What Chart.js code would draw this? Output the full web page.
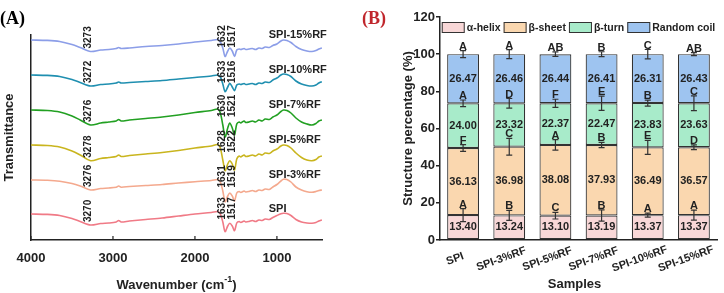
<!DOCTYPE html>
<html>
<head>
<meta charset="utf-8">
<script src="https://cdn.jsdelivr.net/npm/chart.js@4/dist/chart.umd.min.js"></script>
<style>
  html, body { margin: 0; padding: 0; background: #fff; }
  #wrap { position: relative; width: 724px; height: 293px; }
  canvas { position: absolute; top: 0; }
  #ftir { left: 0; }
  #bars { left: 362px; }
</style>
</head>
<body>
<div id="wrap">
  <canvas id="ftir" width="362" height="293"></canvas>
  <canvas id="bars" width="362" height="293"></canvas>
</div>
<script>
// ---- panel A: FTIR spectra (stacked offsets included) ----
const wavenumbers = [4000, 3800, 3650, 3500, 3400, 3273, 3150, 3050, 2960, 2930, 2900, 2800, 2600, 2400, 2200, 2000, 1800, 1720, 1690, 1660, 1632, 1600, 1575, 1545, 1517,
  1490, 1460, 1440, 1400, 1380, 1340, 1300, 1260, 1220, 1180, 1143, 1093, 1049, 1000, 951, 920, 878, 829, 768, 700, 634, 573, 524, 488, 451];

const spiT = [26, 25.6, 24.5, 21.5, 18.5, 15, 16.5, 17, 18, 19.5, 18, 19, 20.5, 22, 24, 26, 27.5, 28.5, 26, 18, 8.3, 14, 16.7, 14, 9.3,
  17, 18.5, 17.5, 19, 18, 18.5, 19.5, 18.5, 20, 19.5, 21, 20.5, 22.5, 24.5, 26.3, 26.7, 26.5, 24.5, 20.5, 18, 17, 16.7, 17.5, 19, 20];
const rf3T = [60, 59.7, 58.8, 56.5, 54, 50, 51.5, 52, 52.8, 54, 52.8, 53.5, 54.5, 55.5, 57, 58.3, 59.5, 60.5, 58, 49, 38.3, 44, 47, 44, 39,
  47, 48.5, 47.5, 49, 48, 48.5, 49.5, 48.5, 50, 49.5, 51, 50.5, 53, 55.5, 59, 60.7, 60.5, 58, 53, 50, 48.3, 47.7, 48.5, 49.5, 50];
const rf5T = [95, 94.5, 93, 89, 85, 79.3, 81.5, 82.5, 83.5, 85, 83.5, 84.5, 86, 87.5, 89.5, 92, 94, 95.5, 92, 80, 69.3, 76, 79.3, 76, 70,
  81, 84, 83, 85, 83.5, 84, 85, 84, 86, 85, 87, 86.5, 89, 91, 94, 95, 94.5, 92, 87, 82.5, 80, 79.3, 80.5, 83, 84];
const rf7T = [130, 129.5, 128, 124, 120, 115, 117, 118, 119, 120.5, 119, 120, 121.5, 123, 125, 127.5, 129.5, 131, 127, 115, 103, 112, 117, 112, 105,
  116, 118, 117, 119, 117.5, 118, 119, 118, 120, 119, 121, 120.5, 123, 125, 128.5, 130, 129.5, 127, 122, 118, 116, 115, 116.5, 119, 120];
const rf10T = [165, 164.6, 163.5, 160.5, 157.5, 154, 155.5, 156, 157, 158, 157, 157.5, 158.5, 159.5, 161, 162.5, 164, 165, 163, 156, 148.3, 153, 156.7, 153, 149.3,
  155, 156, 155.5, 156.5, 155.5, 156, 156.5, 155.5, 157, 156.5, 158, 157.5, 160, 162, 165, 166, 165.5, 163.5, 159, 156, 154.5, 154, 155, 157, 158.3];
const rf15T = [200, 199.6, 198.5, 195.5, 192.5, 188.5, 190, 190.5, 191.5, 192.5, 191.5, 192, 193.5, 194.5, 196, 198, 199.5, 200.5, 198, 192, 183.5, 189, 192, 189, 183.5,
  190, 191, 190.5, 191.5, 190.5, 191, 191.5, 190.5, 192, 191.5, 193, 192.5, 194.5, 196, 199, 200, 199.5, 197.5, 193.5, 190.5, 189, 188.5, 189.5, 191, 192];

const spectraNames = ['SPI', 'SPI-3%RF', 'SPI-5%RF', 'SPI-7%RF', 'SPI-10%RF', 'SPI-15%RF'];
const ohPeaks = ['3270', '3276', '3278', '3276', '3272', '3273'];
const amideIPeaks = ['1633', '1631', '1628', '1630', '1633', '1632'];
const amideIIPeaks = ['1517', '1519', '1522', '1521', '1516', '1517'];
const wnTicks = [4000, 3000, 2000, 1000];

// ---- panel B: secondary structure ----
const samples = ['SPI', 'SPI-3%RF', 'SPI-5%RF', 'SPI-7%RF', 'SPI-10%RF', 'SPI-15%RF'];
const alphaHelix = [13.40, 13.24, 13.10, 13.19, 13.37, 13.37];
const betaSheet = [36.13, 36.98, 38.08, 37.93, 36.49, 36.57];
const betaTurn = [24.00, 23.32, 22.37, 22.47, 23.83, 23.63];
const randomCoil = [26.47, 26.46, 26.44, 26.41, 26.31, 26.43];
const alphaErr = [3.5, 2.7, 1.8, 3.0, 1.1, 2.7];
const sheetErr = [1.8, 4.5, 2.8, 1.4, 3.8, 1.3];
const turnErr = [1.8, 2.6, 2.2, 3.8, 1.6, 4.0];
const coilErr = [1.9, 2.4, 1.2, 1.3, 2.5, 0.8];
const alphaSig = ['A', 'B', 'C', 'B', 'A', 'A'];
const sheetSig = ['F', 'C', 'A', 'B', 'E', 'D'];
const turnSig = ['A', 'D', 'F', 'E', 'B', 'C'];
const coilSig = ['A', 'A', 'AB', 'B', 'C', 'AB'];

const SANS = '"Liberation Sans", Arial, sans-serif';
const SERIF = '"Liberation Serif", "Times New Roman", serif';
const INK = '#222';

Chart.defaults.font.family = SANS;
Chart.defaults.font.weight = 'bold';
Chart.defaults.color = INK;

function vText(ctx, text, x, y, align) {
  ctx.save();
  ctx.translate(x, y);
  ctx.rotate(-Math.PI / 2);
  ctx.textAlign = align;
  ctx.textBaseline = 'middle';
  ctx.fillText(text, 0, 0);
  ctx.restore();
}

// ---------------- panel A ----------------
const spectra = [spiT, rf3T, rf5T, rf7T, rf10T, rf15T];
const spectraColors = ['#f07a86', '#f4a98e', '#c9b51e', '#22a022', '#1f8fb0', '#8c9ee8'];

const ftirDecor = {
  id: 'ftirDecor',
  afterDraw(chart) {
    const ctx = chart.ctx;
    const xs = chart.scales.x, ys = chart.scales.y;
    const area = chart.chartArea;
    ctx.save();
    // inward ticks
    ctx.strokeStyle = INK;
    ctx.lineWidth = 1.2;
    wnTicks.forEach(v => {
      const x = xs.getPixelForValue(v);
      ctx.beginPath();
      ctx.moveTo(x, area.bottom);
      ctx.lineTo(x, area.bottom - 4);
      ctx.stroke();
    });
    ctx.fillStyle = INK;
    // peak labels and names
    chart.data.datasets.forEach((ds, i) => {
      const pts = ds.data;
      const first = pts[0].y;
      const ohDip = Math.min(...pts.filter(p => p.x > 3000).map(p => p.y));
      const pre = pts.find(p => p.x === 1720).y;
      ctx.font = 'bold 10px ' + SANS;
      vText(ctx, ohPeaks[i], xs.getPixelForValue(3273) - 2.5, ys.getPixelForValue(ohDip) - 3, 'left');
      const ampY = ys.getPixelForValue(pre) + 8;
      vText(ctx, amideIPeaks[i], xs.getPixelForValue(1632) - 3, ampY, 'left');
      vText(ctx, amideIIPeaks[i], xs.getPixelForValue(1517) - 2.5, ampY, 'left');
      ctx.font = 'bold 11px ' + SANS;
      ctx.textAlign = 'left';
      ctx.textBaseline = 'middle';
      ctx.fillText(spectraNames[i], xs.getPixelForValue(1100), ys.getPixelForValue(first) - 5);
    });
    // axis titles
    ctx.font = 'bold 13px ' + SANS;
    vText(ctx, 'Transmittance', 9, (area.top + area.bottom) / 2, 'center');
    const a = 'Wavenumber (cm', b = '-1', c = ')';
    const wa = ctx.measureText(a).width, wc = ctx.measureText(c).width;
    ctx.font = 'bold 9px ' + SANS;
    const wb = ctx.measureText(b).width;
    let x0 = (area.left + area.right) / 2 - (wa + wb + wc) / 2;
    ctx.textAlign = 'left';
    ctx.textBaseline = 'middle';
    ctx.font = 'bold 13px ' + SANS;
    ctx.fillText(a, x0, 285);
    ctx.font = 'bold 9px ' + SANS;
    ctx.fillText(b, x0 + wa, 280);
    ctx.font = 'bold 13px ' + SANS;
    ctx.fillText(c, x0 + wa + wb, 285);
    // panel tag
    ctx.font = 'bold 18px ' + SERIF;
    ctx.fillStyle = '#000';
    ctx.fillText('(A)', 0, 19);
    ctx.restore();
  }
};

new Chart(document.getElementById('ftir'), {
  type: 'line',
  data: {
    datasets: spectra.map((vals, i) => ({
      label: spectraNames[i],
      data: vals.map((v, k) => ({ x: wavenumbers[k], y: v })),
      borderColor: spectraColors[i],
      borderWidth: 1.6,
      pointRadius: 0,
      tension: 0.3,
      fill: false
    }))
  },
  options: {
    responsive: false,
    animation: false,
    layout: { padding: { top: 35, right: 40, left: 0, bottom: 0 } },
    plugins: { legend: { display: false }, tooltip: { enabled: false } },
    scales: {
      x: {
        type: 'linear', reverse: true, min: 450, max: 4000,
        afterBuildTicks: s => { s.ticks = wnTicks.map(v => ({ value: v })); },
        afterFit: s => { s.height = 53; },
        grid: { display: false, drawTicks: false },
        border: { display: true, color: INK, width: 1.5 },
        ticks: { padding: 11, autoSkip: false, maxRotation: 0, font: { size: 13, weight: 'bold' }, color: INK, callback: v => String(v) }
      },
      y: {
        min: 0, max: 205,
        afterFit: s => { s.width = 31; },
        grid: { display: false, drawTicks: false },
        border: { display: true, color: INK, width: 1.5 },
        ticks: { display: false }
      }
    }
  },
  plugins: [ftirDecor]
});

// ---------------- panel B ----------------
const parts = [alphaHelix, betaSheet, betaTurn, randomCoil];
const partNames = ['α-helix', 'β-sheet', 'β-turn', 'Random coil'];
const partColors = ['#f8d7d7', '#fad7af', '#a8ebca', '#9ec4f0'];
const partErr = [alphaErr, sheetErr, turnErr, coilErr];
const partSig = [alphaSig, sheetSig, turnSig, coilSig];

const barDecor = {
  id: 'barDecor',
  afterDatasetsDraw(chart) {
    const ctx = chart.ctx;
    const ys = chart.scales.y;
    ctx.save();
    chart.data.datasets.forEach((ds, i) => {
      const meta = chart.getDatasetMeta(i);
      meta.data.forEach((bar, j) => {
        let cum = 0;
        for (let k = 0; k <= i; k++) cum += parts[k][j];
        const err = partErr[i][j];
        const yHi = ys.getPixelForValue(cum + err), yLo = ys.getPixelForValue(cum - err);
        ctx.strokeStyle = '#333';
        ctx.lineWidth = 1.2;
        ctx.beginPath();
        ctx.moveTo(bar.x, yLo); ctx.lineTo(bar.x, yHi);
        ctx.moveTo(bar.x - 3, yLo); ctx.lineTo(bar.x + 3, yLo);
        ctx.moveTo(bar.x - 3, yHi); ctx.lineTo(bar.x + 3, yHi);
        ctx.stroke();
        ctx.fillStyle = INK;
        ctx.font = 'bold 11px ' + SANS;
        ctx.textAlign = 'center';
        ctx.textBaseline = 'alphabetic';
        ctx.fillText(partSig[i][j], bar.x, yHi - 1);
        ctx.textBaseline = 'middle';
        ctx.fillText(ds.data[j].toFixed(2), bar.x, (bar.y + bar.base) / 2);
      });
    });
    ctx.restore();
  },
  afterDraw(chart) {
    const ctx = chart.ctx;
    const area = chart.chartArea;
    const xs = chart.scales.x;
    ctx.save();
    // category labels, tilted and centred a little left of each bar
    ctx.fillStyle = INK;
    ctx.font = 'bold 11px ' + SANS;
    chart.data.labels.forEach((lab, j) => {
      ctx.save();
      ctx.translate(xs.getPixelForValue(j) - 8, 259);
      ctx.rotate(-20 * Math.PI / 180);
      ctx.textAlign = 'center';
      ctx.textBaseline = 'middle';
      ctx.fillText(lab, 0, 0);
      ctx.restore();
    });
    // legend inside the plot
    ctx.font = 'bold 10.5px ' + SANS;
    const items = chart.data.datasets.map(ds => ({ label: ds.label, color: ds.backgroundColor, w: ctx.measureText(ds.label).width }));
    const total = items.reduce((s, it) => s + 23 + 2 + it.w, 0) + 3 * (items.length - 1);
    let x = (area.left + area.right) / 2 - total / 2;
    const top = area.top + 5;
    items.forEach(it => {
      ctx.fillStyle = it.color;
      ctx.fillRect(x, top, 23, 11);
      ctx.strokeStyle = '#333';
      ctx.lineWidth = 1;
      ctx.strokeRect(x + 0.5, top + 0.5, 22, 10);
      ctx.fillStyle = INK;
      ctx.textAlign = 'left';
      ctx.textBaseline = 'middle';
      ctx.fillText(it.label, x + 25, top + 6);
      x += 23 + 2 + it.w + 3;
    });
    // titles
    ctx.font = 'bold 13px ' + SANS;
    vText(ctx, 'Structure percentage (%)', 46, (area.top + area.bottom) / 2, 'center');
    ctx.textAlign = 'center';
    ctx.textBaseline = 'middle';
    ctx.fillText('Samples', (area.left + area.right) / 2 - 4, 284);
    ctx.font = 'bold 18px ' + SERIF;
    ctx.fillStyle = '#c0262c';
    ctx.textAlign = 'left';
    ctx.fillText('(B)', 0, 19);
    ctx.restore();
  }
};

new Chart(document.getElementById('bars'), {
  type: 'bar',
  data: {
    labels: samples,
    datasets: parts.map((vals, i) => ({
      label: partNames[i],
      data: vals,
      backgroundColor: partColors[i],
      borderColor: '#333',
      borderWidth: 1.2,
      borderSkipped: false,
      barPercentage: 0.69,
      categoryPercentage: 1
    }))
  },
  options: {
    responsive: false,
    animation: false,
    layout: { padding: { top: 17, right: 7, left: 0, bottom: 0 } },
    plugins: { legend: { display: false }, tooltip: { enabled: false } },
    scales: {
      x: {
        stacked: true,
        afterFit: s => { s.height = 53; },
        grid: { display: false, drawTicks: false },
        border: { color: INK, width: 1.5 },
        ticks: { display: false }
      },
      y: {
        stacked: true, min: 0, max: 120,
        afterFit: s => { s.width = 78; },
        grid: { drawOnChartArea: false, drawTicks: true, tickLength: 4, color: INK, lineWidth: 1.5 },
        border: { color: INK, width: 1.5 },
        ticks: { stepSize: 20, padding: 1, font: { size: 13, weight: 'bold' }, color: INK }
      }
    }
  },
  plugins: [barDecor]
});
</script>
</body>
</html>
